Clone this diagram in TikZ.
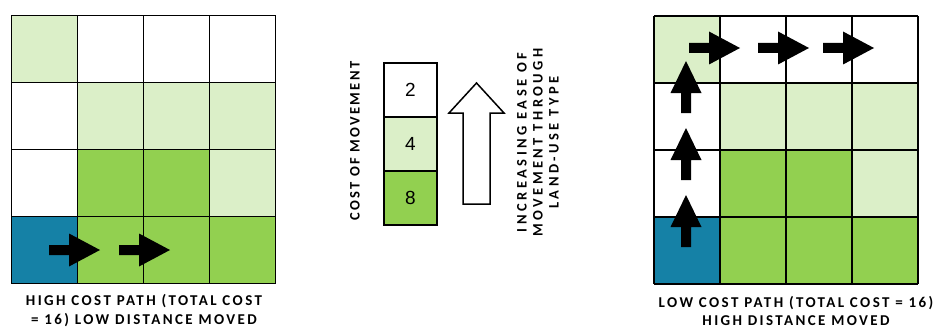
\documentclass[tikz,border=0pt]{standalone}
\usepackage{fontspec}
\setmainfont{Carlito}
\newfontfamily\capfont[LetterSpace=16]{Carlito}
\newfontfamily\capfontw[LetterSpace=24]{Carlito}
\newfontfamily\numfont{Liberation Sans}
\definecolor{lgreen}{HTML}{DBEFC8}
\definecolor{dgreen}{HTML}{92D050}
\definecolor{tealb}{HTML}{1581A6}
\begin{document}
\begin{tikzpicture}[x=1pt,y=-1pt,
  gridline/.style={line width=1.8pt,black},
  captext/.style={font=\capfont\bfseries\fontsize{15}{18.5}\selectfont,align=center,inner sep=0pt},
  legbox/.style={draw=black,line width=1.6pt,minimum width=53pt,minimum height=54pt,inner sep=0pt,font=\numfont\fontsize{19}{19}\selectfont},
  rarrow/.pic={\fill[black] (0,-5) -- (20,-5) -- (20,-16.5) -- (51,0) -- (20,16.5) -- (20,5) -- (0,5) -- cycle;},
  uarrow/.pic={\fill[black] (-5,0) -- (-5,-20) -- (-15.5,-20) -- (0,-52) -- (15.5,-20) -- (5,-20) -- (5,0) -- cycle;},
  costgrid/.pic={
    \foreach \r/\c/\col in {0/0/lgreen,0/1/white,0/2/white,0/3/white,
                            1/0/white,1/1/lgreen,1/2/lgreen,1/3/lgreen,
                            2/0/white,2/1/dgreen,2/2/dgreen,2/3/lgreen,
                            3/0/tealb,3/1/dgreen,3/2/dgreen,3/3/dgreen}
      \fill[\col] (\c*66,\r*67) rectangle ++(66,67);
    \foreach \i in {0,...,4} {
      \draw[gridline] (\i*66,0) -- (\i*66,268);
      \draw[gridline] (0,\i*67) -- (264,\i*67);
    }
  }]
\useasboundingbox (0,0) rectangle (940,329);
% left grid
\pic at (11.5,15.5) {costgrid};
\pic at (49,250) {rarrow};
\pic at (119,250) {rarrow};
\node[captext] (lcap) at (144,310.5) {HIGH COST PATH (TOTAL COST\\= 16) LOW DISTANCE MOVED};
% right grid
\pic at (654,16) {costgrid};
\pic at (689,48) {rarrow};
\pic at (758,48) {rarrow};
\pic at (823,48) {rarrow};
\pic at (686,247) {uarrow};
\pic at (686,180) {uarrow};
\pic at (686,113) {uarrow};
\node[captext] (rcap) at (796,311) {LOW COST PATH (TOTAL COST = 16)\\HIGH DISTANCE MOVED};
% legend
\node[legbox,fill=white] (c2) at (410.5,90) {2};
\node[legbox,fill=lgreen] (c4) at (410.5,144) {4};
\node[legbox,fill=dgreen] (c8) at (410.5,198) {8};
\node[captext,rotate=90,font=\capfont\bfseries\fontsize{14.5}{18}\selectfont] (costlbl) at (355,141) {COST OF MOVEMENT};
\draw[line width=1.5pt,fill=white] (463,204) -- (463,113) -- (449,113) -- (476.5,83) -- (504,113) -- (490,113) -- (490,204) -- cycle;
\node[captext,rotate=90,font=\capfontw\bfseries\fontsize{14.5}{16}\selectfont] (easelbl) at (538,142.5) {INCREASING EASE OF\\MOVEMENT THROUGH\\LAND-USE TYPE};
\end{tikzpicture}
\end{document}
